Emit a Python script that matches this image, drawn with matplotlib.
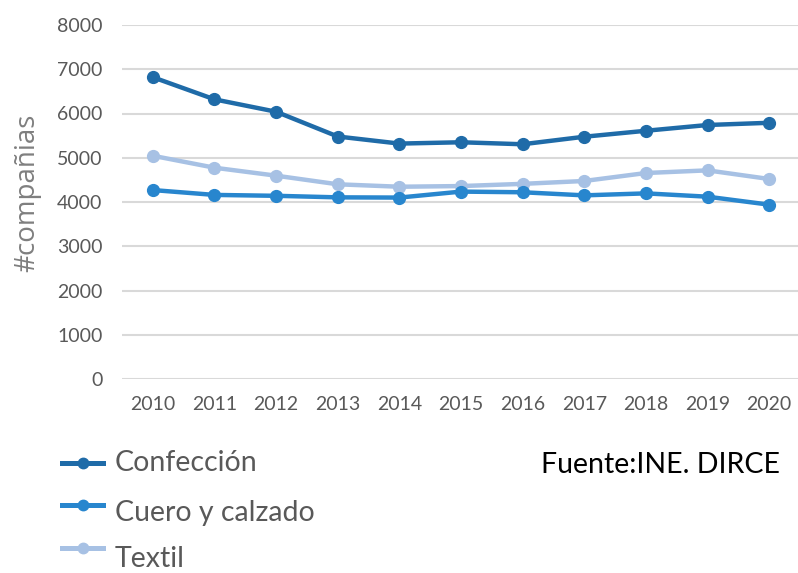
import matplotlib
matplotlib.use("Agg")
import matplotlib.pyplot as plt
from matplotlib.lines import Line2D

years = ["2010", "2011", "2012", "2013", "2014", "2015", "2016", "2017", "2018", "2019", "2020"]
confeccion = [6820, 6320, 6040, 5480, 5320, 5350, 5305, 5475, 5610, 5740, 5790]
cuero = [4270, 4160, 4140, 4105, 4100, 4235, 4220, 4150, 4195, 4120, 3940]
textil = [5045, 4775, 4595, 4400, 4345, 4360, 4410, 4475, 4655, 4715, 4520]
series_names = ["Confección", "Cuero y calzado", "Textil"]
colors = ["#1F6BA8", "#2886CE", "#A7C1E4"]
yticks = [0, 1000, 2000, 3000, 4000, 5000, 6000, 7000, 8000]

W, H = 798, 573
fig = plt.figure(figsize=(W / 100, H / 100), dpi=100)
ax = fig.add_axes([122 / W, 1 - 379 / H, 678 / W, 354 / H])

x = list(range(len(years)))
for vals, c in [(textil, colors[2]), (cuero, colors[1]), (confeccion, colors[0])]:
    ax.plot(x, vals, color=c, lw=3.2, marker="o", ms=8.5, solid_capstyle="round", zorder=3)

ax.set_xlim(-0.5, len(years) - 0.5)
ax.set_ylim(0, 8000)
ax.set_yticks(yticks)
ax.set_yticklabels([str(v) for v in yticks])
ax.set_xticks(x)
ax.set_xticklabels(years)
ax.grid(axis="y", color="#d9d9d9", lw=1.5, zorder=0)
ax.set_axisbelow(True)
for s in ax.spines.values():
    s.set_visible(False)
ax.tick_params(axis="both", length=0, colors="#595959", labelsize=14)
ax.tick_params(axis="y", pad=14.0)
ax.tick_params(axis="x", pad=12.0)
for lab in ax.get_xticklabels() + ax.get_yticklabels():
    lab.set_fontfamily(["Lato", "DejaVu Sans"])

fig.text(27 / W, 1 - 193 / H, "#compañias", rotation=90, ha="center", va="center",
         fontsize=20, color="#7f7f7f", family=["Open Sans", "DejaVu Sans"])

# legend
line_y = [462.5, 505, 548]
text_base = [471, 521, 567]
for name, c, ly, tb in zip(series_names, colors, line_y, text_base):
    fig.add_artist(Line2D([62 / W, 103 / W], [1 - ly / H, 1 - ly / H], color=c, lw=3.6,
                          transform=fig.transFigure))
    fig.add_artist(Line2D([82.5 / W], [1 - ly / H], color=c, marker="o", ms=7.5, lw=0,
                          transform=fig.transFigure))
    fig.text(115 / W, 1 - tb / H, name, ha="left", va="baseline", fontsize=20.5,
             color="#595959", family=["Lato", "DejaVu Sans"])

fig.text(541 / W, 1 - 473 / H, "Fuente:INE. DIRCE", ha="left", va="baseline", fontsize=20.5,
         color="#000000", family=["Lato", "DejaVu Sans"])

fig.savefig("out.png", dpi=100, facecolor="white")
